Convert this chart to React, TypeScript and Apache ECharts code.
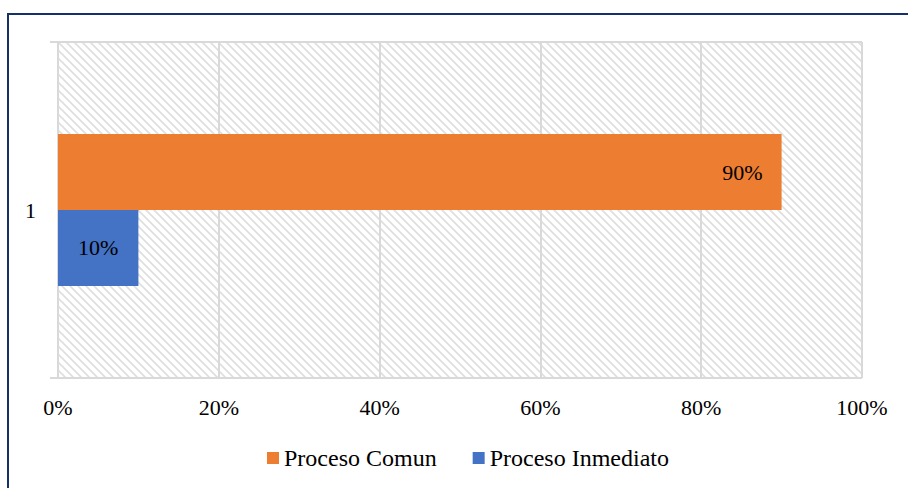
import React, { useEffect, useRef } from "react";
import * as echarts from "echarts";

const categories = ["1"];
const seriesNames = ["Proceso Comun", "Proceso Inmediato"];
const comunValues = [90];
const inmediatoValues = [10];
const xTicks = [0, 20, 40, 60, 80, 100];

const FONT = "Liberation Serif";

const hatchSvg =
  "<svg xmlns='http://www.w3.org/2000/svg' width='8' height='8'>" +
  "<path d='M0 0L8 8M-4 4L4 12M4 -4L12 4' stroke='#dedede' stroke-width='1.6'/></svg>";
const hatchUrl = "data:image/svg+xml;charset=utf-8," + encodeURIComponent(hatchSvg);

export default function App() {
  const ref = useRef<HTMLDivElement>(null);

  useEffect(() => {
    if (!ref.current) return;
    const chart = echarts.init(ref.current, null, { renderer: "svg" });
    chart.setOption({
      animation: false,
      backgroundColor: "#ffffff",
      textStyle: { fontFamily: FONT },
      grid: {
        left: 58,
        right: 46,
        top: 42,
        bottom: 110,
        show: true,
        borderWidth: 0,
        backgroundColor: { image: hatchUrl, repeat: "repeat" } as any,
      },
      legend: {
        top: 441,
        left: 262,
        itemWidth: 12,
        itemHeight: 12,
        itemGap: 36,
        icon: "rect",
        data: seriesNames,
        textStyle: { fontFamily: FONT, fontSize: 24, color: "#000" },
      },
      xAxis: {
        type: "value",
        min: xTicks[0],
        max: xTicks[xTicks.length - 1],
        interval: 20,
        axisLine: { show: false },
        axisTick: { show: false },
        splitLine: { show: true, lineStyle: { color: "#d9d9d9", width: 2 } },
        axisLabel: {
          formatter: "{value}%",
          fontFamily: FONT,
          fontSize: 22,
          color: "#000",
          margin: 18,
        },
      },
      yAxis: {
        type: "category",
        data: categories,
        axisLine: { show: true, lineStyle: { color: "#d9d9d9", width: 2 } },
        axisTick: { show: true, length: 8, lineStyle: { color: "#d9d9d9", width: 2 } },
        splitLine: { show: true, lineStyle: { color: "#d9d9d9", width: 2 } },
        axisLabel: { fontFamily: FONT, fontSize: 22, color: "#000", margin: 22 },
      },
      series: [
        {
          name: seriesNames[0],
          type: "bar",
          data: comunValues,
          barWidth: "22.6%",
          barGap: "0%",
          barCategoryGap: "54.7%",
          itemStyle: { color: "#ED7D31" },
          label: {
            show: true,
            position: "insideRight",
            distance: 19,
            formatter: "{c}%",
            fontFamily: FONT,
            fontSize: 22,
            color: "#000",
          },
        },
        {
          name: seriesNames[1],
          type: "bar",
          data: inmediatoValues,
          barWidth: "22.6%",
          barGap: "0%",
          itemStyle: { color: "#4472C4" },
          label: {
            show: true,
            position: "inside",
            formatter: "{c}%",
            fontFamily: FONT,
            fontSize: 22,
            color: "#000",
          },
        },
      ],
    });
    return () => chart.dispose();
  }, []);

  return (
    <div
      style={{
        position: "fixed",
        left: 0,
        top: 0,
        width: 908,
        height: 488,
        overflow: "hidden",
        background: "#fff",
      }}
    >
      <div ref={ref} style={{ position: "absolute", left: 0, top: 0, width: 908, height: 488 }} />
      <div
        style={{
          position: "absolute",
          left: 7,
          top: 13,
          width: 1000,
          height: 1000,
          borderLeft: "2px solid #16306b",
          borderTop: "2px solid #16306b",
          pointerEvents: "none",
        }}
      />
    </div>
  );
}
